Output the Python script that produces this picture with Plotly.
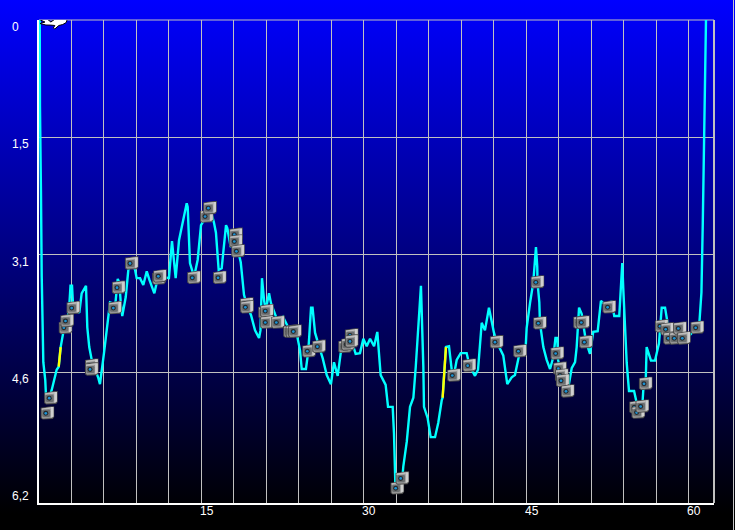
import base64
import plotly.graph_objects as go

time_min = [.07, .09, .18, .25, .40, .58, .65, .92, 1.17, 1.39, 1.63, 1.82, 2.00, 2.24, 2.56, 2.77, 2.91, 3.05, 3.14, 3.72, 3.94, 4.34, 4.46, 4.64, 4.87, 5.48, 5.63, 6.00, 6.28, 6.56, 6.77, 7.02, 7.27, 7.42, 7.55, 7.69, 8.01, 8.25, 8.56, 8.87, 9.02, 9.33, 9.63, 9.95, 10.19, 10.65, 10.87, 11.17, 11.63, 12.00, 12.28, 12.44, 12.62, 12.93, 13.32, 13.64, 13.73, 13.94, 14.19, 14.31, 14.65, 14.96, 15.49, 15.79, 16.16, 16.34, 16.59, 16.87, 17.27, 17.39, 17.70, 18.19, 18.38, 18.63, 18.93, 19.18, 19.58, 19.95, 20.32, 20.45, 20.59, 20.78, 20.94, 21.24, 21.42, 22.07, 22.53, 23.18, 23.82, 24.10, 24.26, 24.65, 24.87, 25.12, 25.26, 25.49, 25.86, 26.20, 26.57, 26.96, 27.24, 27.58, 27.86, 28.26, 28.87, 29.24, 29.64, 29.95, 30.26, 30.57, 30.94, 31.24, 31.55, 32.01, 32.23, 32.66, 32.78, 32.90, 33.09, 33.55, 33.64, 33.96, 34.26, 34.57, 34.79, 35.02, 35.27, 35.49, 35.55, 35.89, 36.17, 36.57, 36.87, 37.19, 37.27, 37.58, 37.86, 38.11, 38.32, 38.57, 38.94, 39.49, 39.74, 40.26, 40.54, 40.88, 41.18, 41.55, 42.01, 42.26, 42.87, 43.24, 43.65, 43.95, 44.42, 44.94, 45.03, 45.34, 45.64, 45.89, 46.01, 46.03, 46.20, 46.26, 46.57, 46.88, 47.19, 47.50, 47.69, 47.86, 47.93, 48.11, 48.36, 48.82, 49.19, 49.50, 49.65, 49.87, 50.11, 50.23, 50.51, 50.88, 51.18, 51.59, 51.89, 52.26, 52.66, 52.88, 53.12, 53.58, 53.65, 53.86, 53.95, 54.05, 54.14, 54.27, 54.48, 54.95, 55.19, 55.34, 55.71, 55.80, 56.02, 56.05, 56.11, 56.51, 56.88, 57.25, 57.50, 57.81, 58.02, 58.27, 58.82, 59.56, 60.10, 60.79, 60.99, 61.08, 61.17, 61.29, 61.38, 61.49, 61.59]
depth_m = [0, 1.14, 2.25, 3.38, 4.52, 4.76, 4.98, 4.99, 4.89, 4.76, 4.62, 4.58, 4.32, 4.13, 4.00, 3.83, 3.51, 3.51, 3.76, 3.87, 3.61, 3.51, 4.06, 4.32, 4.49, 4.73, 4.81, 4.40, 4.10, 3.73, 3.74, 3.80, 3.42, 3.47, 3.74, 3.91, 3.66, 3.30, 3.21, 3.30, 3.41, 3.41, 3.50, 3.32, 3.43, 3.61, 3.47, 3.40, 3.40, 3.41, 2.92, 3.13, 3.41, 2.91, 2.62, 2.42, 2.47, 3.21, 3.33, 3.40, 3.17, 2.71, 2.59, 2.48, 2.68, 2.81, 3.30, 3.28, 2.71, 2.75, 3.00, 2.88, 3.05, 3.20, 3.63, 3.76, 3.90, 4.10, 4.20, 4.10, 3.41, 3.70, 3.83, 3.61, 3.74, 3.99, 3.92, 4.11, 4.16, 4.36, 4.61, 4.61, 4.37, 3.80, 3.80, 4.13, 4.31, 4.47, 4.69, 4.81, 4.52, 4.70, 4.40, 4.31, 4.24, 4.41, 4.40, 4.21, 4.31, 4.21, 4.31, 4.12, 4.69, 4.82, 5.11, 5.11, 5.46, 6.10, 6.18, 6.05, 5.90, 5.57, 5.11, 4.99, 4.58, 4.00, 3.51, 4.58, 5.11, 5.26, 5.51, 5.51, 5.32, 5.02, 4.99, 4.32, 4.31, 4.62, 4.69, 4.49, 4.40, 4.40, 4.56, 4.70, 4.62, 4.00, 4.10, 3.80, 4.13, 4.25, 4.43, 4.81, 4.72, 4.69, 4.37, 4.32, 4.07, 3.74, 3.47, 3.00, 3.26, 3.46, 3.73, 4.00, 4.32, 4.49, 4.61, 4.45, 4.20, 4.20, 4.49, 4.60, 4.76, 4.90, 4.60, 4.52, 4.32, 3.80, 3.88, 3.99, 4.25, 4.41, 4.12, 4.11, 3.71, 3.76, 3.79, 3.71, 3.91, 3.91, 3.70, 3.21, 3.54, 3.87, 4.19, 4.53, 4.90, 4.90, 5.06, 5.18, 5.10, 4.89, 4.80, 4.53, 4.32, 4.50, 4.50, 4.27, 3.80, 3.80, 4.00, 4.20, 4.20, 4.20, 4.16, 4.06, 3.98, 3.75, 3.60, 2.71, 1.81, .90, 0]

alarm_a_time = [1.82, 2.00]
alarm_a_depth = [4.58, 4.32]
alarm_b_time = [37.27, 37.58]
alarm_b_depth = [4.99, 4.32]

photo_time = [.78, 1.10, 2.45, 2.60, 3.17, 4.87, 4.87, 7.02, 7.36, 8.56, 11.08, 11.17, 14.31, 15.49, 15.79, 16.69, 18.19, 18.19, 18.38, 19.18, 19.21, 20.87, 21.05, 21.05, 22.07, 23.18, 23.40, 23.64, 24.93, 25.86, 28.26, 28.53, 28.87, 28.87, 33.09, 33.55, 38.32, 39.74, 42.26, 44.42, 46.03, 46.26, 47.86, 48.11, 48.27, 48.36, 48.82, 49.96, 50.23, 50.51, 52.66, 55.13, 55.34, 55.71, 56.02, 57.50, 58.02, 58.27, 58.82, 59.19, 59.56, 60.79]
photo_depth = [5.19, 4.99, 4.06, 3.97, 3.80, 4.56, 4.61, 3.80, 3.53, 3.21, 3.41, 3.38, 3.40, 2.59, 2.48, 3.40, 2.83, 2.92, 3.05, 3.75, 3.79, 3.86, 3.84, 3.99, 3.99, 4.11, 4.11, 4.11, 4.37, 4.31, 4.31, 4.28, 4.16, 4.24, 6.18, 6.05, 4.69, 4.56, 4.25, 4.37, 3.46, 4.00, 4.40, 4.60, 4.69, 4.76, 4.90, 3.99, 3.99, 4.25, 3.79, 5.11, 5.18, 5.10, 4.80, 4.04, 4.08, 4.20, 4.20, 4.07, 4.20, 4.06]

y_grid_vals = [1.55, 3.1, 4.65]
y_tick_vals = [0, 1.55, 3.1, 4.65, 6.2]
y_tick_text = ["0", "1,5", "3,1", "4,6", "6,2"]
x_tick_vals = [15, 30, 45, 60]
x_tick_text = ["15", "30", "45", "60"]
x_grid_vals = list(range(3, 61, 3))


def svg_uri(svg):
    return "data:image/svg+xml;base64," + base64.b64encode(svg.encode()).decode()


BG = svg_uri(
    '<svg xmlns="http://www.w3.org/2000/svg" width="735" height="530" preserveAspectRatio="none">'
    '<defs><linearGradient id="g" x1="0" y1="0" x2="0" y2="1">'
    '<stop offset="0" stop-color="#0000ff"/><stop offset="0.97" stop-color="#000000"/>'
    '<stop offset="1" stop-color="#000000"/></linearGradient></defs>'
    '<rect width="735" height="530" fill="url(#g)"/></svg>'
)
CAMERA = svg_uri(
    '<svg xmlns="http://www.w3.org/2000/svg" width="14" height="14" viewBox="0 0 14 14">'
    '<path d="M0.5 2 L10.5 0.5 L13.5 0.5 L13.5 11 L12 13 L2.5 13.5 L0.5 12 Z" fill="#4c4c4c"/>'
    '<path d="M1.5 2.6 L10.5 1.3 L12.8 1.3 L12.8 10.6 L11.5 12 L2.5 12.7 L1.5 11.5 Z" fill="#959595"/>'
    '<path d="M10.2 1.3 L12.8 1.3 L12.8 10.6 L10.2 11.8 Z" fill="#cfcfcf"/>'
    '<path d="M1.5 2.6 L10.2 1.5 L10.2 3 L1.5 4 Z" fill="#bdbdbd"/>'
    '<rect x="2" y="4" width="7.6" height="7" rx="1.4" fill="#6b6e70"/>'
    '<circle cx="5.4" cy="7.4" r="2.4" fill="#26292c"/>'
    '<circle cx="5.4" cy="7.4" r="1.3" fill="#1b93d6"/>'
    '</svg>'
)
DIVER = svg_uri(
    '<svg xmlns="http://www.w3.org/2000/svg" width="29" height="13" viewBox="0 0 29 13">'
    '<path d="M1 0.8 L8 2.2 L12 5.5 L16 2.6 L24 1 L28.5 3 L27.5 6 L24 8 L20 9 L16 12.5 L14.5 11.5 '
    'L16 9 L12 8.6 L7 8.5 L1 7 L6 5.5 L0.5 3 Z" fill="#ffffff" stroke="#000000" stroke-width="1"/></svg>'
)

fig = go.Figure()
fig.add_trace(go.Scatter(x=time_min, y=depth_m, mode="lines",
                         line=dict(color="#00ffff", width=2.4), hoverinfo="skip"))
fig.add_trace(go.Scatter(x=alarm_a_time, y=alarm_a_depth, mode="lines",
                         line=dict(color="#ffff00", width=2.4), hoverinfo="skip"))
fig.add_trace(go.Scatter(x=alarm_b_time, y=alarm_b_depth, mode="lines",
                         line=dict(color="#ffff00", width=2.4), hoverinfo="skip"))

images = [dict(source=BG, xref="paper", yref="paper", x=-39 / 675, y=1 + 20 / 483,
               sizex=735 / 675, sizey=530 / 483, sizing="stretch",
               xanchor="left", yanchor="top", layer="below")]
for t, d in zip(photo_time, photo_depth):
    images.append(dict(source=CAMERA, xref="x", yref="y", x=t, y=d, sizex=1.35, sizey=0.19,
                       sizing="stretch", xanchor="center", yanchor="middle", layer="above"))
images.append(dict(source=DIVER, xref="x", yref="y", x=0, y=0.04, sizex=2.65, sizey=0.17,
                   sizing="stretch", xanchor="left", yanchor="middle", layer="above"))

FONT = dict(family="Liberation Sans", size=12, color="#ffffff")
annotations = []
for v, s in zip(y_tick_vals, y_tick_text):
    annotations.append(dict(x=0, y=v, xref="x", yref="y", text=s, showarrow=False, font=FONT,
                            xanchor="left", yanchor="middle", xshift=-29, yshift=-7))
for v, s in zip(x_tick_vals, x_tick_text):
    annotations.append(dict(x=v, y=6.38, xref="x", yref="y", text=s, showarrow=False, font=FONT,
                            xanchor="center", yanchor="top", xshift=5.5, yshift=1))

shapes = [dict(type="line", xref="paper", yref="paper", x0=1, x1=1, y0=0, y1=1,
               line=dict(color="#c0c0c0", width=2), layer="below"),
          dict(type="line", xref="paper", yref="paper", x0=0, x1=1, y0=1, y1=1,
               line=dict(color="#c0c0c0", width=1), layer="below"),
          dict(type="line", xref="paper", yref="paper", x0=1 + 19.5 / 675, x1=1 + 19.5 / 675,
               y0=-27 / 483, y1=1 + 20 / 483, line=dict(color="#c8c8c8", width=1), layer="above")]

fig.update_layout(
    width=735, height=530, autosize=False,
    margin=dict(l=39, r=21, t=20, b=27, pad=0),
    paper_bgcolor="#000000", plot_bgcolor="rgba(0,0,0,0)",
    showlegend=False, images=images, annotations=annotations, shapes=shapes,
    xaxis=dict(range=[0, 62.33], tickmode="array", tickvals=x_grid_vals, showticklabels=False,
               ticks="", showgrid=True, gridcolor="#c0c0c0", gridwidth=1, zeroline=False,
               showline=True, linecolor="#ffffff", linewidth=2, fixedrange=True),
    yaxis=dict(range=[6.38, 0], tickmode="array", tickvals=y_grid_vals, showticklabels=False,
               ticks="", showgrid=True, gridcolor="#c0c0c0", gridwidth=1, zeroline=False,
               showline=True, linecolor="#ffffff", linewidth=2, fixedrange=True),
)

fig.write_html("out.html", config=dict(displayModeBar=False),
               post_script="document.body.style.margin='0';document.body.style.overflow='hidden';")
